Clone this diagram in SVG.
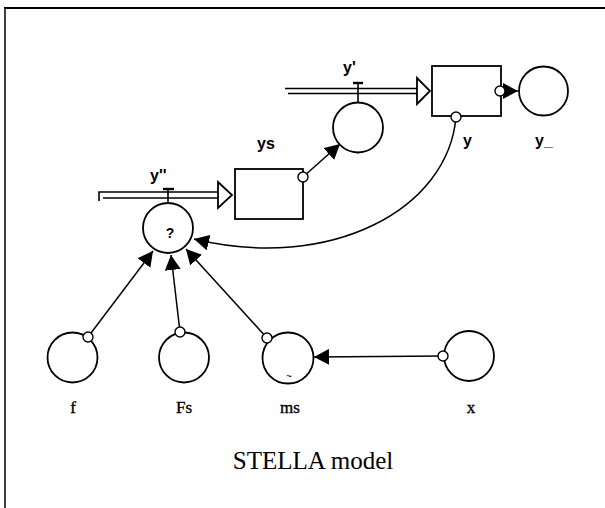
<svg xmlns="http://www.w3.org/2000/svg" width="605" height="508" viewBox="0 0 605 508">
<style>
.nd{fill:#fff;stroke:#000;stroke-width:1.8}
.sm{fill:#fff;stroke:#000;stroke-width:1.4}
.ln{fill:none;stroke:#000;stroke-width:1.5}
.pp{fill:none;stroke:#000;stroke-width:1.6}
.lb{font-family:"Liberation Sans",Arial,sans-serif;font-weight:bold;font-size:16px;fill:#000}
.tl{font-family:"Liberation Serif","Times New Roman",serif;font-size:17px;fill:#000;stroke:#000;stroke-width:0.35;text-anchor:middle}
</style>
<defs>
<marker id="ah" markerUnits="userSpaceOnUse" markerWidth="16" markerHeight="16" refX="15" refY="8" orient="auto">
<path d="M0,0 L15,8 L0,16 z" fill="#000"/>
</marker>
</defs>
<rect width="605" height="508" fill="#fff"/>
<g id="frame">
<line x1="4" y1="8" x2="605" y2="8" stroke="#000" stroke-width="2"/>
<line x1="5" y1="8" x2="5" y2="508" stroke="#000" stroke-width="1.5"/>
</g>
<g id="flows">
<g id="flow_y2">
<polyline class="pp" points="99,201 99,192 219,192"/>
<line class="pp" x1="103" y1="198" x2="219" y2="198"/>
<polygon class="nd" points="218,182 232,195 218,208"/>
<line class="pp" x1="168" y1="189" x2="168" y2="203"/>
<line x1="163" y1="189" x2="174" y2="189" stroke="#000" stroke-width="2.4"/>
</g>
<g id="flow_y1">
<line class="pp" x1="285" y1="88.5" x2="418" y2="88.5"/>
<line class="pp" x1="288" y1="93.5" x2="418" y2="93.5"/>
<polygon class="nd" points="417,78 430,91 417,104"/>
<line class="pp" x1="358" y1="83" x2="358" y2="102"/>
<line x1="353" y1="83" x2="363" y2="83" stroke="#000" stroke-width="2.4"/>
</g>
</g>
<g id="connectors">
<line class="ln" x1="303" y1="177" x2="340" y2="144" marker-end="url(#ah)"/>
<line class="ln" x1="88" y1="337" x2="153" y2="251" marker-end="url(#ah)"/>
<line class="ln" x1="180" y1="332" x2="171" y2="255" marker-end="url(#ah)"/>
<line class="ln" x1="267" y1="338" x2="186" y2="249" marker-end="url(#ah)"/>
<line class="ln" x1="443" y1="356" x2="314" y2="357" marker-end="url(#ah)"/>
<path class="ln" d="M456,117 C448,210 330,272 194,239" marker-end="url(#ah)"/>
<line class="ln" x1="500" y1="91" x2="518" y2="91" marker-end="url(#ah)"/>
</g>
<g id="node_ys">
<rect class="nd" x="235" y="169" width="68" height="50"/>
<text class="lb" x="257" y="149">ys</text>
</g>
<g id="node_y">
<rect class="nd" x="432" y="66" width="69" height="50"/>
<text class="lb" x="463" y="146">y</text>
</g>
<g id="node_yprime">
<circle class="nd" cx="358" cy="127.5" r="25"/>
<text class="lb" x="343" y="73">y'</text>
</g>
<g id="node_ydd">
<circle class="nd" cx="168" cy="228" r="25"/>
<text class="lb" x="150" y="181">y''</text>
<text x="170" y="238" font-family="Liberation Sans,Arial,sans-serif" font-weight="bold" font-size="14" text-anchor="middle">?</text>
</g>
<g id="node_y_">
<circle class="nd" cx="543.5" cy="91" r="24.5"/>
<text class="lb" x="535" y="146">y_</text>
</g>
<g id="node_f">
<circle class="nd" cx="72.5" cy="357.5" r="25"/>
<text class="tl" x="73" y="413">f</text>
</g>
<g id="node_Fs">
<circle class="nd" cx="184" cy="357.5" r="25"/>
<text class="tl" x="184" y="413">Fs</text>
</g>
<g id="node_ms">
<circle class="nd" cx="288" cy="358" r="25.5"/>
<text x="289" y="380" font-family="Liberation Sans,Arial,sans-serif" font-size="10" text-anchor="middle">~</text>
<text class="tl" x="290" y="413">ms</text>
</g>
<g id="node_x">
<circle class="nd" cx="469" cy="356" r="25"/>
<text class="tl" x="471" y="413">x</text>
</g>
<g id="origins">
<circle class="sm" cx="303" cy="177" r="5"/>
<circle class="sm" cx="456" cy="117" r="5"/>
<circle class="sm" cx="500" cy="91" r="5"/>
<circle class="sm" cx="88" cy="337" r="5"/>
<circle class="sm" cx="180" cy="332" r="5"/>
<circle class="sm" cx="267" cy="338" r="5"/>
<circle class="sm" cx="443" cy="356" r="5"/>
</g>
<text x="313" y="469" font-family="Liberation Serif,Times New Roman,serif" font-size="25" text-anchor="middle">STELLA model</text>
</svg>
